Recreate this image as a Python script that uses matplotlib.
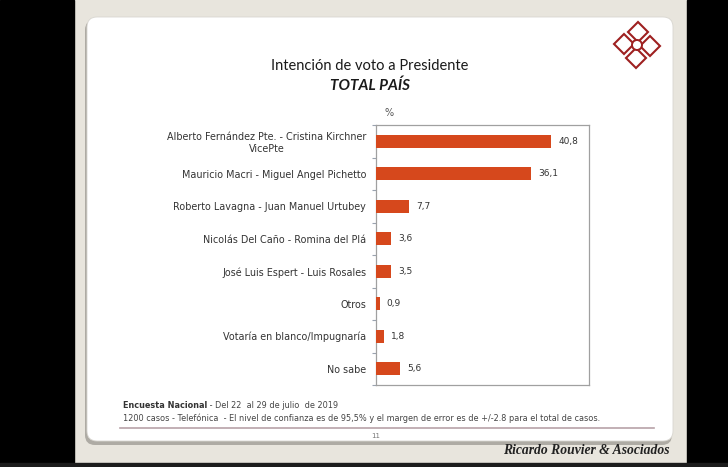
import numpy as np
import matplotlib
matplotlib.use("Agg")
import matplotlib.pyplot as plt
from matplotlib.patches import FancyBboxPatch, Rectangle, Polygon, Circle

# --- datos ---
candidatos = [
    "Alberto Fernández Pte. - Cristina Kirchner\nVicePte",
    "Mauricio Macri - Miguel Angel Pichetto",
    "Roberto Lavagna - Juan Manuel Urtubey",
    "Nicolás Del Caño - Romina del Plá",
    "José Luis Espert - Luis Rosales",
    "Otros",
    "Votaría en blanco/Impugnaría",
    "No sabe",
]
valores = [40.8, 36.1, 7.7, 3.6, 3.5, 0.9, 1.8, 5.6]
titulo = "Intención de voto a Presidente"
subtitulo = "TOTAL PAÍS"
nota1_bold = "Encuesta Nacional"
nota1 = " - Del 22  al 29 de julio  de 2019"
nota2 = "1200 casos - Telefónica  - El nivel de confianza es de 95,5% y el margen de error es de +/-2.8 para el total de casos."
firma = "Ricardo Rouvier & Asociados"

W, H = 728, 467
fig = plt.figure(figsize=(W / 100, H / 100), dpi=100)
fig.patch.set_facecolor("#e8e5dd")

# fondo del "slide" en coordenadas de pixel
bg = fig.add_axes([0, 0, 1, 1])
bg.set_xlim(0, W); bg.set_ylim(H, 0); bg.axis("off")
bg.add_patch(Rectangle((0, 0), 74, H, color="#000000", zorder=1))
bg.add_patch(Rectangle((687, 0), W - 687, H, color="#000000", zorder=1))
bg.add_patch(Rectangle((0, 463), W, 4, color="#1c1c1c", zorder=1))
bg.add_patch(FancyBboxPatch((85, 20), 587, 425, boxstyle="round,pad=0,rounding_size=10",
                            fc="#aeaba4", ec="none", zorder=2))
bg.add_patch(FancyBboxPatch((87, 17), 586, 424, boxstyle="round,pad=0,rounding_size=10",
                            fc="white", ec="#d8d6d0", lw=0.6, zorder=3))

# logo
red = "#9e2020"
cx, cy, r = 637, 45, 10
for dx, dy in [(1, -13), (13, 1), (-1, 13), (-13, -1)]:
    xc, yc = cx + dx, cy + dy
    bg.add_patch(Polygon([(xc, yc - r), (xc + r, yc), (xc, yc + r), (xc - r, yc)],
                         closed=True, fc="none", ec=red, lw=1.5, zorder=4))
bg.add_patch(Circle((cx, cy), 5, fc="white", ec=red, lw=1.4, zorder=5))

# títulos
bg.text(370, 66, titulo, ha="center", va="center", fontsize=10.5, family="Lato", color="#1a1a1a", zorder=6)
bg.text(370, 86, subtitulo, ha="center", va="center", fontsize=11, family="Lato",
        fontweight="bold", style="italic", color="#1a1a1a", zorder=6)
bg.text(389, 113, "%", ha="center", va="center", fontsize=7, color="#555555", zorder=6)

# notas al pie
t = bg.text(123, 406, nota1_bold, ha="left", va="center", fontsize=5.9, fontweight="bold",
            color="#333333", zorder=6)
bg.annotate(nota1, xy=(1, 0.5), xycoords=t, ha="left", va="center", fontsize=5.9,
            color="#444444", zorder=6)
bg.text(123, 418, nota2, ha="left", va="center", fontsize=5.9, color="#444444", zorder=6)
bg.plot([120, 654], [428, 428], color="#b8a2a8", lw=1.2, zorder=6)
bg.text(376, 436, "11", ha="center", va="center", fontsize=5, color="#777777", zorder=6)
bg.text(670, 451, firma, ha="right", va="center", fontsize=9.8, family="Liberation Serif",
        fontweight="bold", style="italic", color="#222222", zorder=6)

# --- gráfico de barras ---
x0, x1, y0, y1 = 376, 589, 125, 385
ax = fig.add_axes([x0 / W, 1 - y1 / H, (x1 - x0) / W, (y1 - y0) / H])
ax.set_facecolor("none")
ypos = np.arange(len(valores))
ax.barh(ypos, valores, height=0.4, color="#d6481c", zorder=3)
for y, v in zip(ypos, valores):
    ax.annotate(f"{v:.1f}".replace(".", ","), (v, y), xytext=(5, 0), textcoords="offset points",
                ha="left", va="center", fontsize=6.5, color="#333333")
ax.set_xlim(0, 49.6)
ax.set_ylim(len(valores) - 0.5, -0.5)
ax.set_xticks([])
ax.set_yticks(ypos)
ax.set_yticklabels(candidatos, fontsize=6.9, color="#333333", multialignment="center")
ax.set_yticks(np.arange(-0.5, len(valores), 1), minor=True)
ax.tick_params(axis="y", which="major", length=0, pad=7)
ax.tick_params(axis="y", which="minor", length=3, color="#9aa3b0", width=0.8)
for s in ax.spines.values():
    s.set_color("#a0a0a0")
    s.set_linewidth(0.9)

fig.savefig("out.png", dpi=100, facecolor=fig.get_facecolor())
